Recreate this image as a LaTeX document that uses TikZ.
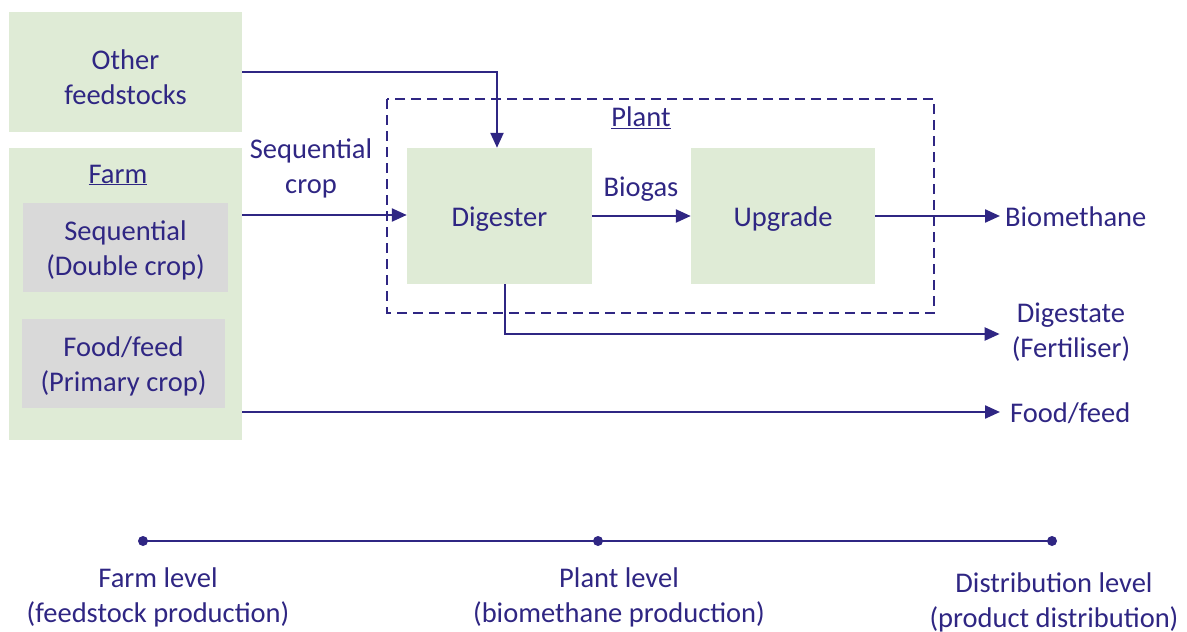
\documentclass[tikz,border=0pt]{standalone}
\usepackage{fontspec}
\setmainfont{Carlito}
\usetikzlibrary{arrows.meta,positioning,calc}
\definecolor{ink}{HTML}{2F2683}
\definecolor{pgreen}{HTML}{DFEBD6}
\definecolor{pgrey}{HTML}{D9D9D9}
\newcommand{\ulab}[1]{\underline{#1}}
\tikzset{
  txt/.style={font=\fontsize{28.5}{35}\selectfont, text=ink, align=center, inner sep=0pt},
  greenbox/.style={fill=pgreen, draw=none, inner sep=0pt},
  greybox/.style={fill=pgrey, draw=none, inner sep=0pt},
  flow/.style={draw=ink, line width=2.3pt, -{Triangle[length=15pt,width=13pt]}},
  plainline/.style={draw=ink, line width=2.3pt},
  tdot/.style={circle, fill=ink, minimum size=10pt, inner sep=0pt},
}
\begin{document}
\begin{tikzpicture}[x=1pt,y=-1pt]
\useasboundingbox (0,0) rectangle (1187,632);
% left boxes
\node[greenbox, minimum width=233pt, minimum height=120pt] (other) at (125.5,72) {};
\node[txt] (otherlbl) at (125.5,77) {Other\\feedstocks};
\node[greenbox, minimum width=233pt, minimum height=292pt] (farm) at (125.5,294) {};
\node[txt] (farmlbl) at (118,175) {\ulab{Farm}};
\node[greybox, minimum width=205pt, minimum height=89pt] (seq) at (125.5,247.5) {};
\node[txt] at (125.5,250) {Sequential\\(Double crop)};
\node[greybox, minimum width=203pt, minimum height=89pt] (food) at (123.5,363.5) {};
\node[txt] at (123.5,366) {Food/feed\\(Primary crop)};
% plant
\node[greenbox, minimum width=185pt, minimum height=136pt] (dig) at (499.5,216) {};
\node[txt] at (499.5,219) {Digester};
\node[greenbox, minimum width=184pt, minimum height=136pt] (upg) at (783,216) {};
\node[txt] at (783,219) {Upgrade};
\draw[ink, line width=2pt, dash pattern=on 10pt off 6pt] (387,99) rectangle (934,313);
\node[txt] (plantlbl) at (641,118) {\ulab{Plant}};
\node[txt] (biogas) at (641,189) {Biogas};
\node[txt] (seqcrop) at (311,168) {Sequential\\crop};
% outputs
\node[txt, anchor=west, inner xsep=5pt] (biom) at (1000,217) {Biomethane};
\node[txt] (dgs) at (1071,332) {Digestate\\(Fertiliser)};
\node[txt, anchor=west, inner xsep=10pt] (ff) at (1000,413) {Food/feed};
% connectors
\draw[flow] (other.east) -| ([xshift=-2.5pt]dig.north);
\draw[flow] (farm.east |- 0,215) -- (dig.west |- 0,215);
\draw[flow] (dig.east) -- (upg.west);
\draw[flow] (upg.east) -- (biom.west |- 0,216);
\draw[flow] ([xshift=5.5pt]dig.south) |- ([xshift=-12pt]dgs.west |- 0,334);
\draw[flow] (farm.east |- 0,412) -- (ff.west |- 0,412);
% timeline
\node[tdot] (t1) at (143,541) {};
\node[tdot] (t2) at (598,541) {};
\node[tdot] (t3) at (1052,541) {};
\draw[plainline] (t1.center) -- (t3.center);
\node[txt] at (158,597) {Farm level\\(feedstock production)};
\node[txt] at (619,597) {Plant level\\(biomethane production)};
\node[txt] at (1054,602) {Distribution level\\(product distribution)};
\end{tikzpicture}
\end{document}
